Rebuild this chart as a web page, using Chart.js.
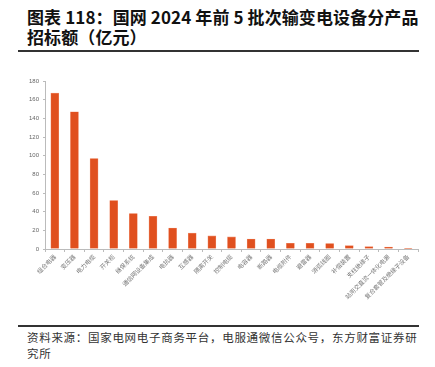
<!DOCTYPE html>
<html><head><meta charset="utf-8">
<script src="https://cdn.jsdelivr.net/npm/chart.js@4/dist/chart.umd.min.js"></script>
<style>
html,body{margin:0;padding:0;background:#fff;width:435px;height:367px;overflow:hidden;position:relative;font-family:"Noto Sans CJK SC",sans-serif;}
#t{position:absolute;left:27px;top:7px;font-size:17px;font-weight:bold;line-height:20px;color:#111;letter-spacing:0.1px;}
.rule{position:absolute;left:18px;width:401px;height:1.5px;background:#333;}
#src{position:absolute;left:27px;top:329px;font-size:11.5px;line-height:16px;color:#333;letter-spacing:0.7px;width:395px;}
#wrap{position:absolute;left:0;top:55px;width:435px;height:267px;}
</style></head><body>
<div id="t">图表 118：国网 2024 年前 5 批次输变电设备分产品<br>招标额（亿元）</div>
<div class="rule" style="top:50px"></div>
<div id="wrap"><canvas id="c"></canvas></div>
<div class="rule" style="top:325px"></div>
<div id="src">资料来源：国家电网电子商务平台，电服通微信公众号，东方财富证券研究所</div>
<script>
const categories = ["组合电器","变压器","电力电缆","开关柜","继保系统","通信网设备集成","电抗器","互感器","隔离开关","控制电缆","电容器","断路器","电缆附件","避雷器","消弧线圈","补偿装置","支柱绝缘子","站用交直流一体化电源","复合套管及绝缘子设备"];
const amounts = [167, 147, 97, 52, 38, 35, 22.5, 17, 14, 13, 10.7, 10.7, 6.1, 6.1, 5.9, 3.6, 2.5, 2.1, 0.4];
const yTicks = [0,20,40,60,80,100,120,140,160,180];

new Chart(document.getElementById('c'), {
  type: 'bar',
  data: { labels: categories, datasets: [{ data: amounts, backgroundColor: '#E0501F', borderColor: '#F08A68', borderWidth: 0.6, barThickness: 8 }] },
  options: {
    responsive: true, maintainAspectRatio: false, animation: false,
    layout: { padding: { top: 26, right: 17, left: 0, bottom: 0 } },
    plugins: { legend: { display: false }, tooltip: { enabled: false } },
    scales: {
      x: {
        grid: { display: true, drawOnChartArea: false, drawTicks: true, tickLength: 3, color: '#BBBBBB', offset: true },
        border: { color: '#BBBBBB', width: 1 },
        ticks: { minRotation: 45, maxRotation: 45, autoSkip: false, font: { size: 6, family: '"Noto Sans CJK SC"' }, color: '#777', padding: 1 },
        afterFit: s => { s.height = 73; }
      },
      y: {
        min: 0, max: 180,
        afterBuildTicks: s => { s.ticks = yTicks.map(v => ({ value: v })); },
        grid: { display: true, drawOnChartArea: false, drawTicks: true, tickLength: 2, color: '#BBBBBB' },
        border: { color: '#BBBBBB', width: 1 },
        ticks: { font: { size: 6, family: 'Arial' }, color: '#666', padding: 4 },
        afterFit: s => { s.width = 45; }
      }
    }
  }
});
</script>
</body></html>
